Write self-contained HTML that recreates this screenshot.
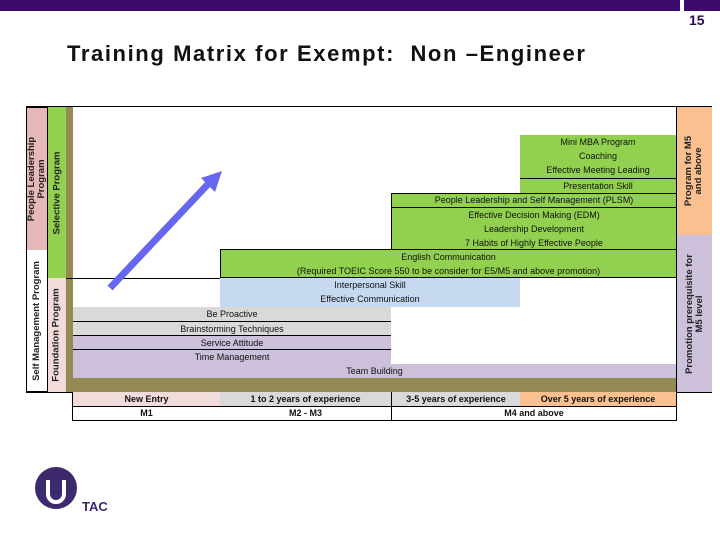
<!DOCTYPE html>
<html><head><meta charset="utf-8"><style>
body{margin:0;width:720px;height:540px;background:#fff;position:relative;overflow:hidden;font-family:"Liberation Sans",sans-serif}
.a{position:absolute;box-sizing:border-box}
.c{position:absolute;box-sizing:border-box;font-size:9px;color:#111;text-align:center;line-height:14px;white-space:nowrap;overflow:hidden}
.v{position:absolute;box-sizing:border-box;display:flex;align-items:center;justify-content:center}
.v span{transform:rotate(-90deg);white-space:nowrap;font-size:9.5px;font-weight:bold;color:#222;text-align:center;line-height:10px}
.g{background:#92d050}.gr{background:#d9d9d9}.lv{background:#ccc0da}.bl{background:#c6d9f1}
.b{border-top:1px solid #000}
</style></head><body>
<div class="a" style="left:0;top:0;width:680px;height:11px;background:#3d0a6e"></div>
<div class="a" style="left:684px;top:0;width:36px;height:11px;background:#3d0a6e"></div>
<div class="a" style="left:689px;top:12px;font-size:14px;font-weight:bold;color:#2a0a50">15</div>
<div class="a" style="left:67px;top:41px;font-size:22px;letter-spacing:1.6px;font-weight:bold;color:#111;white-space:pre">Training Matrix for Exempt:  Non –Engineer</div>

<div class="v" style="left:26px;top:107px;width:22px;height:143px;background:#e6b9b8;border:1px solid #000;border-bottom:none"><span>People Leadership<br>Program</span></div>
<div class="v" style="left:26px;top:250px;width:22px;height:142px;background:#fff;border:1px solid #000;border-top:none"><span>Self Management Program</span></div>
<div class="v" style="left:48px;top:107px;width:18px;height:171px;background:#92d050"><span>Selective Program</span></div>
<div class="v" style="left:48px;top:278px;width:18px;height:114px;background:#f2dcdb"><span>Foundation Program</span></div>
<div class="a" style="left:66px;top:107px;width:7px;height:285px;background:#948a54"></div>
<div class="a" style="left:66px;top:378px;width:610px;height:14px;background:#948a54"></div>
<div class="a" style="left:26px;top:106px;width:686px;height:1px;background:#000"></div>
<div class="a" style="left:66px;top:278px;width:154px;height:1px;background:#000"></div>

<div class="c gr" style="left:73px;top:307px;width:318px;height:14px">Be Proactive</div>
<div class="c gr b" style="left:73px;top:321px;width:318px;height:14px">Brainstorming Techniques</div>
<div class="c lv b" style="left:73px;top:335px;width:318px;height:14px">Service Attitude</div>
<div class="c lv b" style="left:73px;top:349px;width:318px;height:15px">Time Management</div>
<div class="c lv" style="left:73px;top:364px;width:603px;height:14px">Team Building</div>
<div class="c bl" style="left:220px;top:278px;width:300px;height:29px;padding-top:0">Interpersonal Skill<br>Effective Communication</div>
<div class="c g" style="left:220px;top:249px;width:456px;height:29px;border:1px solid #000;border-right:none">English Communication<br>(Required TOEIC Score 550 to be consider for E5/M5 and above promotion)</div>
<div class="c g" style="left:391px;top:207px;width:285px;height:42px;border:1px solid #000;border-right:none;border-bottom:none">Effective Decision Making (EDM)<br>Leadership Development<br>7 Habits of Highly Effective People</div>
<div class="c g" style="left:391px;top:193px;width:285px;height:14px;border:1px solid #000;border-right:none;border-bottom:none;line-height:12px">People Leadership and Self Management (PLSM)</div>
<div class="c g" style="left:520px;top:178px;width:156px;height:15px;border-top:1px solid #000">Presentation Skill</div>
<div class="c g" style="left:520px;top:135px;width:156px;height:43px">Mini MBA Program<br>Coaching<br>Effective Meeting Leading</div>

<div class="a" style="left:676px;top:107px;width:1px;height:286px;background:#000"></div>
<div class="v" style="left:677px;top:107px;width:35px;height:128px;background:#fac090"><span>Program for M5<br>and above</span></div>
<div class="v" style="left:677px;top:235px;width:35px;height:157px;background:#ccc0da"><span>Promotion prerequisite for<br>M5 level</span></div>
<div class="a" style="left:26px;top:392px;width:47px;height:1px;background:#000"></div>
<div class="a" style="left:676px;top:392px;width:36px;height:1px;background:#000"></div>

<div class="a" style="left:72px;top:392px;width:605px;height:29px;border:1px solid #000"></div>
<div class="c" style="left:73px;top:392px;width:147px;height:14px;background:#f2dcdb;font-weight:bold">New Entry</div>
<div class="c gr" style="left:220px;top:392px;width:171px;height:14px;font-weight:bold">1 to 2 years of experience</div>
<div class="c gr" style="left:391px;top:392px;width:129px;height:14px;font-weight:bold;border-left:1px solid #000">3-5 years of experience</div>
<div class="c" style="left:520px;top:392px;width:156px;height:14px;background:#fac090;font-weight:bold">Over 5 years of experience</div>
<div class="c" style="left:73px;top:406px;width:147px;height:14px;font-weight:bold;border-top:1px solid #000;line-height:13px">M1</div>
<div class="c" style="left:220px;top:406px;width:171px;height:14px;font-weight:bold;border-top:1px solid #000;line-height:13px">M2 - M3</div>
<div class="c" style="left:391px;top:406px;width:285px;height:14px;font-weight:bold;border-top:1px solid #000;border-left:1px solid #000;line-height:13px">M4 and above</div>

<svg class="a" style="left:0;top:0" width="720" height="540">
<line x1="110" y1="288" x2="210" y2="182" stroke="#6666ee" stroke-width="7"/>
<polygon points="222,171 201,178 215,192" fill="#6666ee"/>
</svg>

<svg class="a" style="left:34px;top:464px" width="80" height="52">
<circle cx="22" cy="24" r="21" fill="#3d2a6e"/>
<path d="M14 16 v14 a8 8 0 0 0 16 0 v-14" fill="none" stroke="#fff" stroke-width="4"/>
<text x="48" y="47" font-family="Liberation Sans,sans-serif" font-weight="bold" font-size="13" fill="#3d2a6e">TAC</text>
</svg>
</body></html>
